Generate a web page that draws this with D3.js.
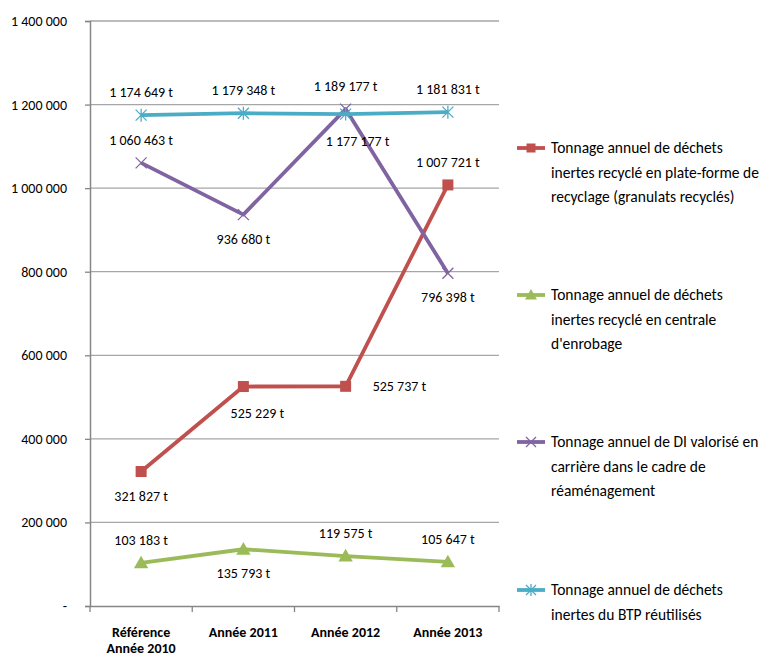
<!DOCTYPE html>
<html><head><meta charset="utf-8">
<script src="https://cdn.jsdelivr.net/npm/d3@7"></script>
<style>
body{margin:0;background:#fff;}
text{font-family:"Carlito","Liberation Sans Narrow","Liberation Sans",sans-serif;fill:#000;}
</style></head>
<body><svg id="c" width="768" height="658"></svg>
<script>
const categories = [["Référence","Année 2010"],["Année 2011"],["Année 2012"],["Année 2013"]];
const yTicks = [0,200000,400000,600000,800000,1000000,1200000,1400000];
const redValues = [321827,525229,525737,1007721];
const greenValues = [103183,135793,119575,105647];
const purpleValues = [1060463,936680,1189177,796398];
const cyanValues = [1174649,1179348,1177177,1181831];
const seriesNames = [
 ["Tonnage annuel de déchets","inertes recyclé en plate-forme de","recyclage (granulats recyclés)"],
 ["Tonnage annuel de déchets","inertes recyclé en centrale","d'enrobage"],
 ["Tonnage annuel de DI valorisé en","carrière dans le cadre de","réaménagement"],
 ["Tonnage annuel de déchets","inertes du BTP réutilisés"]
];
// label placement per point: a=above, b=below, r=right
const redPos = ["b","br","r","a"];
const greenPos = ["a","b","a","a"];
const purplePos = ["a","b","a","b"];
const cyanPos = ["a","a","b","a"];

const series = [
 {name:seriesNames[0], values:redValues, pos:redPos, color:"#C0504D", marker:"square"},
 {name:seriesNames[1], values:greenValues, pos:greenPos, color:"#9BBB59", marker:"triangle"},
 {name:seriesNames[2], values:purpleValues, pos:purplePos, color:"#8064A2", marker:"x"},
 {name:seriesNames[3], values:cyanValues, pos:cyanPos, color:"#4BACC6", marker:"star"}
];

const svg = d3.select("#c");
const L=90, R=499, T=21, B=606;
const x = d3.scaleBand().domain(d3.range(4)).range([L,R]);
const y = d3.scaleLinear().domain([0,1400000]).range([B,T]);
const fmt = v => v===0 ? "-" : d3.format(",")(v).replace(/,/g," ");
const fmtT = v => d3.format(",")(v).replace(/,/g," ")+" t";

// gridlines
svg.append("g").selectAll("line").data(yTicks.filter(d=>d>0)).join("line")
 .attr("x1",L).attr("x2",R).attr("y1",d=>y(d)).attr("y2",d=>y(d))
 .attr("stroke","#A6A6A6").attr("stroke-width",1.3);

// y axis
const ya = svg.append("g").attr("transform",`translate(${L},0)`)
 .call(d3.axisLeft(y).tickValues(yTicks).tickFormat(fmt).tickSize(5).tickPadding(18));
ya.select(".domain").attr("stroke","#868686").attr("stroke-width",1.5);
ya.selectAll(".tick line").attr("stroke","#868686").attr("stroke-width",1.3);
ya.selectAll(".tick text").attr("font-size",14).style("font-family",'"Carlito","Liberation Sans Narrow",sans-serif').attr("fill","#000");

// x axis
const xa = svg.append("g").attr("transform",`translate(0,${B})`)
 .call(d3.axisBottom(x).tickSize(0).tickFormat(""));
xa.select(".domain").attr("stroke","#868686").attr("stroke-width",1.5);
const bounds = d3.range(5).map(i=> i<4 ? x(i) : x(3)+x.bandwidth());
svg.append("g").selectAll("line").data(bounds).join("line")
 .attr("x1",d=>d).attr("x2",d=>d).attr("y1",B).attr("y2",B+6)
 .attr("stroke","#868686").attr("stroke-width",1.3);
const cx = i => x(i)+x.bandwidth()/2;
svg.append("g").selectAll("text").data(categories).join("text")
 .attr("x",(d,i)=>cx(i)).attr("y",637).attr("text-anchor","middle")
 .attr("font-size",14).attr("font-weight","bold")
 .selectAll("tspan").data(d=>d).join("tspan")
 .attr("x",function(){return this.parentNode.getAttribute("x");})
 .attr("dy",(d,j)=>j===0?0:16).text(d=>d);

// marker drawing
function drawMarker(g, type, color, px, py, s){
  if(type==="square"){
    g.append("rect").attr("x",px-s/2).attr("y",py-s/2).attr("width",s).attr("height",s).attr("fill",color);
  } else if(type==="triangle"){
    g.append("path").attr("d",`M${px},${py-s*0.6}L${px+s*0.6},${py+s*0.45}L${px-s*0.6},${py+s*0.45}Z`).attr("fill",color);
  } else if(type==="x"){
    const h=s/2;
    g.append("path").attr("d",`M${px-h},${py-h}L${px+h},${py+h}M${px-h},${py+h}L${px+h},${py-h}`)
     .attr("stroke",color).attr("stroke-width",1.3).attr("fill","none");
  } else {
    const h=s/2;
    g.append("path").attr("d",`M${px-h},${py-h}L${px+h},${py+h}M${px-h},${py+h}L${px+h},${py-h}M${px},${py-h-1}L${px},${py+h+1}`)
     .attr("stroke",color).attr("stroke-width",1.3).attr("fill","none");
  }
}

const line = d3.line().x((d,i)=>cx(i)).y(d=>y(d));
const sizes = {square:11, triangle:12, x:11, star:11};
series.forEach(s=>{
  const g = svg.append("g");
  g.append("path").attr("d",line(s.values)).attr("fill","none")
   .attr("stroke",s.color).attr("stroke-width",3.8).attr("stroke-linejoin","round");
  s.values.forEach((v,i)=>drawMarker(g,s.marker,s.color,cx(i),y(v),sizes[s.marker]));
});
// labels after lines
series.forEach(s=>{
  s.values.forEach((v,i)=>{
    const p=s.pos[i];
    let lx=cx(i), ly=y(v), anchor="middle";
    if(p==="a"){ ly-=18; }
    else if(p==="b"){ ly+=29; }
    else if(p==="br"){ lx+=14; ly+=31; }
    else if(p==="r"){ lx+=27; ly+=5; anchor="start"; }
    if(s.marker==="star" && p==="b"){ lx+=12; ly+=3; }
    svg.append("text").attr("x",lx).attr("y",ly).attr("text-anchor",anchor)
     .attr("font-size",14).text(fmtT(v));
  });
});

// legend
const legY = [148,295,442,590];
series.forEach((s,k)=>{
  const g = svg.append("g");
  const ly = legY[k];
  g.append("line").attr("x1",517).attr("x2",545).attr("y1",ly).attr("y2",ly)
   .attr("stroke",s.color).attr("stroke-width",3.8);
  drawMarker(g,s.marker,s.color,531,ly,s.marker==="square"?9:10);
  g.append("text").attr("x",551).attr("y",ly+5).attr("font-size",15.5)
   .selectAll("tspan").data(s.name).join("tspan")
   .attr("x",551).attr("dy",(d,j)=>j===0?0:24.5).text(d=>d);
});
</script></body></html>
